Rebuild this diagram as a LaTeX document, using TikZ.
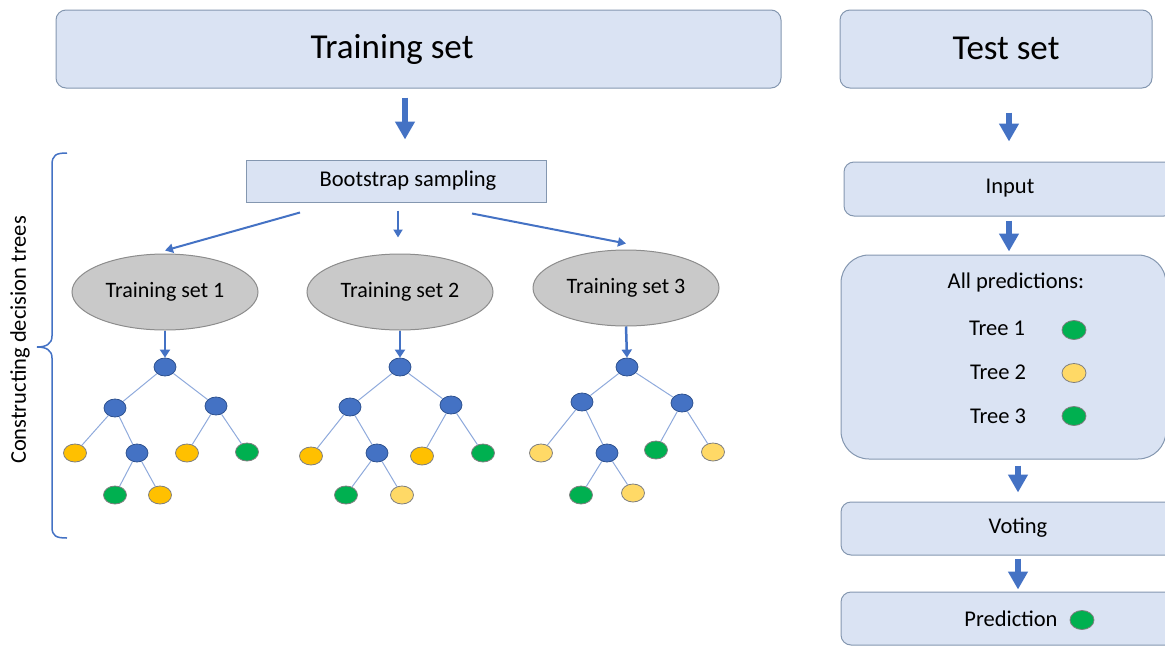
\documentclass[tikz,border=0pt]{standalone}
\usepackage{fontspec}
\setmainfont{Carlito}
\usepackage{tikz}
\usetikzlibrary{arrows.meta,shapes.geometric}
\definecolor{boxfill}{HTML}{DAE3F3}
\definecolor{boxline}{HTML}{8497B0}
\definecolor{arrowblue}{HTML}{4472C4}
\definecolor{nodeblue}{HTML}{4472C4}
\definecolor{nodeline}{HTML}{2F528F}
\definecolor{leafline}{HTML}{7F7F7F}
\definecolor{leafyellow}{HTML}{FFC000}
\definecolor{leaflight}{HTML}{FFD966}
\definecolor{leafgreen}{HTML}{00B050}
\definecolor{edgeblue}{HTML}{8FAADC}
\definecolor{setgray}{HTML}{C9C9C9}
\definecolor{setline}{HTML}{8C8C8C}

\tikzset{
  panel/.style={draw=boxline, fill=boxfill, line width=1pt, rounded corners=10pt, inner sep=0pt},
  bigtext/.style={font=\fontsize{35}{40}\selectfont, inner sep=0pt},
  smalltext/.style={font=\fontsize{22.5}{26}\selectfont, inner sep=0pt},
  subset/.style={ellipse, draw=setline, fill=setgray, line width=1pt, minimum width=186pt, minimum height=76pt, inner sep=0pt, font=\fontsize{22}{26}\selectfont},
  split/.style={draw=arrowblue, line width=2pt, -{Triangle[length=8pt,width=9pt]}},
  drop/.style={draw=arrowblue, line width=2.5pt, -{Triangle[length=8pt,width=10pt]}},
  bigarrow/.style={draw=arrowblue, line width=6pt, -{Triangle[length=18pt,width=19pt]}},
  inner/.style={ellipse, draw=nodeline, fill=nodeblue, line width=0.8pt, minimum width=22pt, minimum height=18pt, inner sep=0pt},
  leaf/.style={ellipse, draw=leafline, line width=0.8pt, minimum width=23pt, minimum height=18pt, inner sep=0pt},
  branch/.style={draw=edgeblue, line width=1pt},
  brace/.style={draw=arrowblue, line width=1.5pt}
}

\begin{document}
\begin{tikzpicture}[x=1pt, y=-1pt]
  \useasboundingbox (0,0) rectangle (1165,646);

  % top boxes
  \node[panel, minimum width=725pt, minimum height=78pt] (train) at (418.5,49) {};
  \node[bigtext] (train-txt) at (392,49) {Training set};
  \node[panel, minimum width=312pt, minimum height=78pt] (test) at (996,49) {};
  \node[bigtext] (test-txt) at (1006,48) {Test set};

  % left side: bootstrap and the three subsets
  \node[panel, rounded corners=0pt, minimum width=300pt, minimum height=42pt] (boot) at (396,181) {};
  \node[smalltext] (boot-txt) at (408,181) {Bootstrap sampling};

  \node[subset] (set1) at (165,292) {Training set 1};
  \node[subset] (set2) at (400,292) {Training set 2};
  \node[subset] (set3) at (626,288) {Training set 3};

  \draw[bigarrow] ([xshift=-13.5pt,yshift=-9pt]train.south) -- ([xshift=9pt,yshift=20pt]boot.north);
  \draw[split] ([xshift=-96pt,yshift=-10pt]boot.south) -- ([yshift=3pt]set1.north);
  \draw[split] ([xshift=2pt,yshift=-8pt]boot.south) -- ([xshift=-2pt,yshift=16pt]set2.north);
  \draw[split] ([xshift=76pt,yshift=-11pt]boot.south) -- ([yshift=6pt]set3.north);

  % tree 1
  \node[inner] (t1r) at (165,367) {};
  \node[inner] (t1a) at (115,408) {};
  \node[inner] (t1b) at (216,406) {};
  \node[leaf, fill=leafyellow] (t1c) at (75,453) {};
  \node[inner] (t1d) at (137,453) {};
  \node[leaf, fill=leafyellow] (t1e) at (187,453) {};
  \node[leaf, fill=leafgreen] (t1f) at (247,452) {};
  \node[leaf, fill=leafgreen] (t1g) at (115,495) {};
  \node[leaf, fill=leafyellow] (t1h) at (160,495) {};

  % tree 2
  \node[inner] (t2r) at (400,367) {};
  \node[inner] (t2a) at (350,407) {};
  \node[inner] (t2b) at (451,405) {};
  \node[leaf, fill=leafyellow] (t2c) at (311,456) {};
  \node[inner] (t2d) at (377,453) {};
  \node[leaf, fill=leafyellow] (t2e) at (422,456) {};
  \node[leaf, fill=leafgreen] (t2f) at (483,453) {};
  \node[leaf, fill=leafgreen] (t2g) at (346,495) {};
  \node[leaf, fill=leaflight] (t2h) at (402,495) {};

  % tree 3
  \node[inner] (t3r) at (627,367) {};
  \node[inner] (t3a) at (582,402) {};
  \node[inner] (t3b) at (682,403) {};
  \node[leaf, fill=leaflight] (t3c) at (541,453) {};
  \node[inner] (t3d) at (607,453) {};
  \node[leaf, fill=leafgreen] (t3e) at (656,450) {};
  \node[leaf, fill=leaflight] (t3f) at (713,452) {};
  \node[leaf, fill=leafgreen] (t3g) at (581,495) {};
  \node[leaf, fill=leaflight] (t3h) at (633,493) {};

  \foreach \t in {1,2,3} {
    \draw[drop] (set\t.south) -- (t\t r.north);
    \foreach \p/\c in {r/a,r/b,a/c,a/d,b/e,b/f,d/g,d/h}
      \draw[branch] (t\t\p) -- (t\t\c);
  }

  % brace and its label
  \draw[brace] (67,153) .. controls (56,153) and (52,155) .. (52,165) -- (52,336)
    .. controls (52,344) and (46,347) .. (37,347) .. controls (46,347) and (52,350) .. (52,358)
    -- (52,527) .. controls (52,536) and (56,538) .. (67,538);
  \node[smalltext, rotate=90] (side) at (20,340) {Constructing decision trees};

  % right side: test path
  \node[panel, minimum width=330pt, minimum height=54pt] (inp) at (1009,189) {};
  \node[smalltext] (inp-txt) at (1010,188) {Input};
  \node[panel, rounded corners=28pt, minimum width=325pt, minimum height=204pt] (allpred) at (1003.5,357) {};
  \node[smalltext] (all-txt) at (1016,282) {All predictions:};
  \node[smalltext] (tree1) at (997,328) {Tree 1};
  \node[smalltext] (tree2) at (998,372) {Tree 2};
  \node[smalltext] (tree3) at (998,416) {Tree 3};
  \node[leaf, fill=leafgreen, minimum width=24pt, minimum height=19pt] (vote1) at (1074,330) {};
  \node[leaf, fill=leaflight, minimum width=24pt, minimum height=19pt] (vote2) at (1074,373) {};
  \node[leaf, fill=leafgreen, minimum width=24pt, minimum height=19pt] (vote3) at (1074,416) {};
  \node[panel, minimum width=354pt, minimum height=53pt] (vote) at (1018,528.5) {};
  \node[smalltext] (vote-txt) at (1018,528) {Voting};
  \node[panel, minimum width=354pt, minimum height=53pt] (pred) at (1018,618.5) {};
  \node[smalltext] (pred-txt) at (1011,619) {Prediction};
  \node[leaf, fill=leafgreen, minimum width=24pt, minimum height=19pt] (predval) at (1082,620) {};

  \draw[bigarrow] ([xshift=13pt,yshift=-24pt]test.south) -- ([yshift=20pt]inp.north);
  \draw[bigarrow] ([yshift=-4pt]inp.south) -- ([xshift=5.5pt,yshift=3pt]allpred.north);
  \draw[bigarrow] ([xshift=14.5pt,yshift=-6pt]allpred.south) -- ([yshift=9pt]vote.north);
  \draw[bigarrow] ([yshift=-3pt]vote.south) -- ([yshift=2pt]pred.north);
\end{tikzpicture}
\end{document}
